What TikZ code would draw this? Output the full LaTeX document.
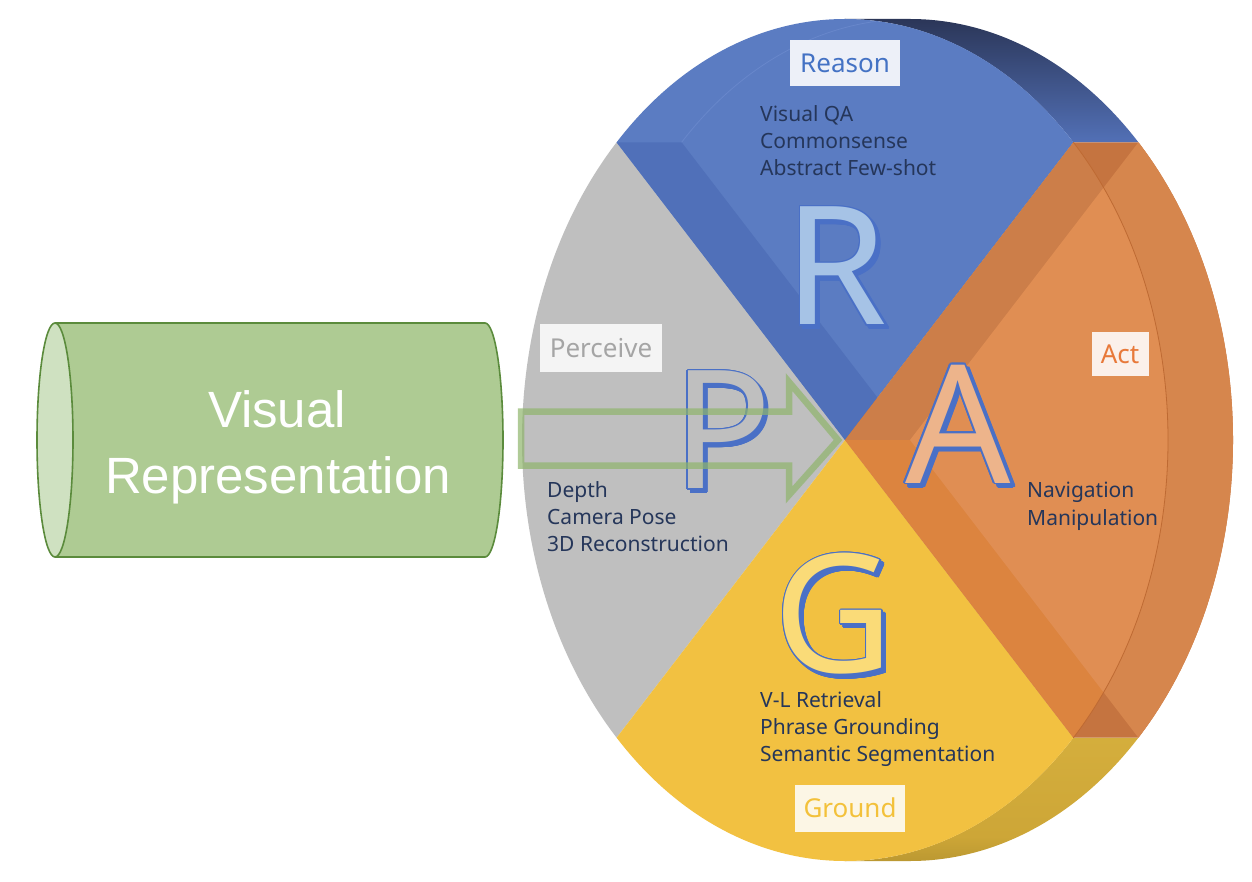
\documentclass[tikz,border=0pt]{standalone}
\usepackage{fontspec}
\setmainfont{Noto Sans}
\newfontfamily\vrfont{Liberation Sans}
\usetikzlibrary{calc}

\definecolor{blueface}{HTML}{5B7CC2}
\definecolor{blueband}{HTML}{5070B9}
\definecolor{blueedge}{HTML}{6887CB}
\definecolor{bluesideA}{HTML}{2B3658}
\definecolor{bluesideB}{HTML}{5270B6}
\definecolor{grayface}{HTML}{BFBFBF}
\definecolor{yellowface}{HTML}{F2C141}
\definecolor{ysideA}{HTML}{D9B340}
\definecolor{ysideM}{HTML}{CDA637}
\definecolor{ysideN}{HTML}{A88A2C}
\definecolor{ysideB}{HTML}{3A3010}
\definecolor{orA}{HTML}{C57440}
\definecolor{orB}{HTML}{D6864D}
\definecolor{orC}{HTML}{CC7E49}
\definecolor{orD}{HTML}{DC843F}
\definecolor{orE}{HTML}{E08E53}
\definecolor{orline}{HTML}{BE6A33}
\definecolor{letterblue}{HTML}{4A70C6}
\definecolor{rfill}{HTML}{A6C3E6}
\definecolor{afill}{HTML}{EDB48B}
\definecolor{gfill}{HTML}{FADB78}
\definecolor{navy}{HTML}{25365A}
\definecolor{tblue}{HTML}{4472C4}
\definecolor{tgray}{HTML}{A5A5A5}
\definecolor{torange}{HTML}{E8793A}
\definecolor{tyellow}{HTML}{F3C13A}
\definecolor{boxblue}{HTML}{EDF0F8}
\definecolor{boxgray}{HTML}{F4F4F4}
\definecolor{boxorange}{HTML}{FBF0EA}
\definecolor{boxyellow}{HTML}{FCF6E5}
\definecolor{cylbody}{HTML}{AECB93}
\definecolor{cylcap}{HTML}{CFE1C1}
\definecolor{cylline}{HTML}{5B8B3C}
\definecolor{arrowgreen}{HTML}{8FB56C}

% shading of the gold side wall: dark only along the lowest rim
\pgfdeclareverticalshading{goldside}{100bp}{color(0bp)=(ysideB); color(14bp)=(ysideN);
  color(35bp)=(ysideM); color(100bp)=(ysideA)}

% a large letter with a thin blue rim and a blue drop shadow
\newcommand\bigletter[4]{%
  \foreach \a in {0,30,...,330}{%
    \node[bigl,text=letterblue] at ($(#2)+(3.5pt,-3.5pt)+(\a:1.5pt)$) {#3};}%
  \foreach \a in {0,30,...,330}{%
    \node[bigl,text=letterblue] at ($(#2)+(\a:1.5pt)$) {#3};}%
  \node[bigl,text=#4] (#1) at (#2) {#3};%
}

\begin{document}
\begin{tikzpicture}[x=1pt,y=-1pt,
  elarc/.style={x radius=323pt, y radius=421pt},
  tag/.style={inner sep=0pt, font=\fontsize{26}{30}\selectfont},
  item/.style={anchor=base west, inner sep=0pt, text=navy, font=\fontsize{21}{27}\selectfont},
  bigl/.style={inner sep=0pt, font=\fontsize{165}{170}\selectfont},
]
\useasboundingbox (0,0) rectangle (1252,882);
\fill[white] (0,0) rectangle (1252,882);

% front and back centres of the disc
\coordinate (F) at (845,440);
\coordinate (K) at (910,440);
\foreach \t in {0,45,90,135,225,270,315}{
  \coordinate (F\t) at ($(F)+(\t:323pt and 421pt)$);
  \coordinate (K\t) at ($(K)+(\t:323pt and 421pt)$);
}

% side walls of the disc
\shade[top color=bluesideA, bottom color=bluesideB]
  (F90) -- (K90) arc[elarc, start angle=90, end angle=45]
  -- (F45) arc[elarc, start angle=45, end angle=90] -- cycle;
\shade[shading=goldside]
  (F270) -- (K270) arc[elarc, start angle=270, end angle=315]
  -- (F315) arc[elarc, start angle=315, end angle=270] -- cycle;

% Perceive sector
\fill[grayface] (F) -- (F135) arc[elarc, start angle=135, end angle=225] -- cycle;
% Reason sector
\fill[blueface] (F) -- (F45) arc[elarc, start angle=45, end angle=135] -- cycle;
\fill[blueband] (F) -- (F135) -- (K135) -- (K) -- cycle;
\draw[blueedge, line width=0.8pt] (K135) arc[elarc, start angle=135, end angle=96];
% Ground sector
\fill[yellowface] (F) -- (F225) arc[elarc, start angle=225, end angle=315] -- cycle;

% Act sector, seen through
\fill[orA] (F) -- (F45) -- (K45) arc[elarc, start angle=45, end angle=-45] -- (F315) -- cycle;
\fill[orB] (K) -- (K45) arc[elarc, start angle=45, end angle=-45] -- cycle;
\fill[orC] (F) -- (F45) arc[elarc, start angle=45, end angle=0] -- cycle;
\fill[orD] (F) -- (F0) arc[elarc, start angle=0, end angle=-45] -- cycle;
\begin{scope}
  \clip (F) -- (F45) arc[elarc, start angle=45, end angle=-45] -- cycle;
  \fill[orE] (K) -- (K45) arc[elarc, start angle=45, end angle=-45] -- cycle;
\end{scope}
\draw[orline, line width=0.8pt] (F45) arc[elarc, start angle=45, end angle=-45];

% sector titles
\node[tag, fill=boxblue, text=tblue, minimum width=110pt, minimum height=46pt] (reason) at (845,63) {Reason};
\node[tag, fill=boxgray, text=tgray, minimum width=122pt, minimum height=47pt] (perceive) at (601,348) {Perceive};
\node[tag, fill=boxorange, text=torange, minimum width=57pt, minimum height=43pt] (act) at (1120,354) {Act};
\node[tag, fill=boxyellow, text=tyellow, minimum width=110pt, minimum height=47pt] (ground) at (850,808) {Ground};

% task lists
\node[item] (r1) at (760,122) {Visual QA};
\node[item] (r2) at (760,149) {Commonsense};
\node[item] (r3) at (760,176) {Abstract Few-shot};
\node[item] (p1) at (547,497) {Depth};
\node[item] (p2) at (547,524) {Camera Pose};
\node[item] (p3) at (547,551) {3D Reconstruction};
\node[item] (a1) at (1027,497) {Navigation};
\node[item] (a2) at (1027,525) {Manipulation};
\node[item] (g1) at (760,707) {V-L Retrieval};
\node[item] (g2) at (760,734) {Phrase Grounding};
\node[item] (g3) at (760,761) {Semantic Segmentation};

% initials
\bigletter{bigR}{836,266}{R}{rfill}
\bigletter{bigP}{722,430}{P}{grayface}
\bigletter{bigA}{958,424}{A}{afill}
\bigletter{bigG}{834,614}{G}{gfill}

% visual representation cylinder
\fill[cylbody] (55,323) -- (485,323)
  arc[start angle=90, end angle=-90, x radius=18pt, y radius=117pt]
  -- (55,557) arc[start angle=270, end angle=90, x radius=18pt, y radius=117pt] -- cycle;
\draw[cylline, line width=1.6pt] (55,323) -- (485,323)
  arc[start angle=90, end angle=-90, x radius=18pt, y radius=117pt] -- (55,557);
\filldraw[fill=cylcap, draw=cylline, line width=1.6pt] (55,440) ellipse [x radius=18pt, y radius=117pt];
\node[text=white, anchor=base, inner sep=0pt, font=\vrfont\fontsize{51}{60}\selectfont] (vr1) at (277,427) {Visual};
\node[text=white, anchor=base, inner sep=0pt, font=\vrfont\fontsize{51}{60}\selectfont] (vr2) at (278,493) {Representation};

% hollow arrow into the centre of the disc
\coordinate (tail) at (521,438.5);
\coordinate (tip) at ($(F)+(-7pt,0pt)$);
\draw[arrowgreen, draw opacity=0.7, line width=6.5pt, line join=miter]
  ($(tail)+(0,-27)$) -- (789,411.5) -- (789,382) -- (tip) -- (789,495)
  -- (789,465.5) -- ($(tail)+(0,27)$) -- cycle;
\end{tikzpicture}
\end{document}
